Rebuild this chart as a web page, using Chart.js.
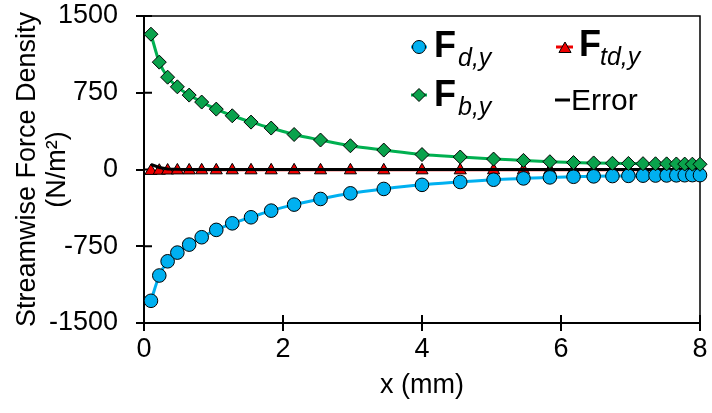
<!DOCTYPE html>
<html><head><meta charset="utf-8">
<script src="https://cdn.jsdelivr.net/npm/chart.js@4.4.1/dist/chart.umd.min.js"></script>
<style>html,body{margin:0;padding:0;background:#fff;}#wrap{width:712px;height:413px;}</style>
</head><body><div id="wrap"><canvas id="c" width="712" height="413"></canvas></div>
<script>
const xPositions = [0.10,0.22,0.34,0.48,0.65,0.83,1.04,1.27,1.54,1.83,2.16,2.54,2.97,3.45,4.00,4.55,5.03,5.46,5.84,6.18,6.47,6.74,6.97,7.18,7.36,7.52,7.66,7.78,7.89,8.00];
const fdY  = [-1283,-1036,-897,-812,-734,-662,-590,-526,-467,-402,-343,-288,-233,-190,-150,-122,-100,-87,-77,-71,-67,-64,-62,-60,-59,-58,-57,-56,-55,-55];
const fbY  = [1322,1049,902,808,727,659,590,525,463,405,342,288,232,190,146,122,102,89,76,68,64,61,59,57,56,55,54,53,52,51];
const ftdY = [-14,-12,-10,-9,-9,-8,-8,-8,-8,-8,-8,-8,-8,-8,-8,-8,-8,-8,-8,-8,-8,-8,-8,-8,-8,-8,-8,-8,-8,-8];
const errY = [50,20,6,2,0,0,0,0,0,0,0,0,0,0,0,0,0,0,0,0,0,0,0,0,0,0,0,0,0,0];
const xTicks = [0,2,4,6,8];
const yTicks = [-1500,-750,0,750,1500];
const seriesNames = ['F', 'd,y', 'b,y', 'td,y', 'Error'];

const FONT = "'Liberation Sans', Arial, sans-serif";
const BLUE = '#00B0F0', GREEN_LINE = '#00B050', GREEN_FILL = '#0AA24C', RED = '#EE0000';

const pts = arr => arr.map((v, i) => ({x: xPositions[i], y: v}));

const framePlugin = {
  id: 'frame',
  beforeDatasetsDraw(chart) {
    const {ctx, chartArea: a, scales} = chart;
    ctx.save();
    ctx.strokeStyle = '#000';
    ctx.lineWidth = 1.5;
    ctx.beginPath();
    ctx.moveTo(a.left, a.top); ctx.lineTo(a.right, a.top); ctx.lineTo(a.right, a.bottom);
    ctx.stroke();
    ctx.lineWidth = 2;
    ctx.beginPath();
    yTicks.forEach(v => { const y = scales.y.getPixelForValue(v); ctx.moveTo(a.left, y); ctx.lineTo(a.left + 8, y); });
    xTicks.forEach(v => { const x = scales.x.getPixelForValue(v); ctx.moveTo(x, a.bottom); ctx.lineTo(x, a.bottom - 8); });
    ctx.stroke();
    ctx.restore();
  },
  afterDraw(chart) {
    const ctx = chart.ctx;
    const H = Chart.helpers;
    ctx.save();
    const seg = (x1, x2, y, c, w) => { ctx.strokeStyle = c; ctx.lineWidth = w; ctx.beginPath(); ctx.moveTo(x1, y); ctx.lineTo(x2, y); ctx.stroke(); };
    const mark = (style, r, fill, x, y) => { ctx.fillStyle = fill; ctx.strokeStyle = '#000'; ctx.lineWidth = 1; H.drawPoint(ctx, {pointStyle: style, radius: r, borderWidth: 1, rotation: 0}, x, y); };
    const txt = (s, x, y, f) => { ctx.font = f; ctx.fillStyle = '#000'; ctx.textAlign = 'left'; ctx.textBaseline = 'alphabetic'; ctx.fillText(s, x, y); };
    // Fd,y
    seg(411, 427, 47, BLUE, 3); mark('circle', 6.5, BLUE, 419, 47);
    txt(seriesNames[0], 434, 57, 'bold 36px ' + FONT);
    txt(seriesNames[1], 458, 66, 'italic 25px ' + FONT);
    // Fb,y
    seg(411, 427, 95, GREEN_LINE, 3); mark('rectRot', 6.5, GREEN_FILL, 419, 95);
    txt(seriesNames[0], 434, 106, 'bold 36px ' + FONT);
    txt(seriesNames[2], 458, 115, 'italic 25px ' + FONT);
    // Ftd,y
    seg(556, 573, 47, RED, 3); mark('triangle', 7, RED, 565, 49);
    txt(seriesNames[0], 579, 56, 'bold 36px ' + FONT);
    txt(seriesNames[3], 600, 65, 'italic 25px ' + FONT);
    // Error
    seg(555, 570, 100, '#000', 3);
    txt(seriesNames[4], 571, 110, '30px ' + FONT);
    ctx.restore();
  }
};

const tickFont = {family: FONT, size: 27};
new Chart(document.getElementById('c'), {
  type: 'line',
  data: {
    datasets: [
      {label: 'Fb,y', data: pts(fbY), borderColor: GREEN_LINE, borderWidth: 3, backgroundColor: GREEN_FILL,
       pointStyle: 'rectRot', pointRadius: 7, pointBorderColor: '#000', pointBorderWidth: 1, pointBackgroundColor: GREEN_FILL,
       cubicInterpolationMode: 'monotone', order: 0, clip: false},
      {label: 'Fd,y', data: pts(fdY), borderColor: BLUE, borderWidth: 3, backgroundColor: BLUE,
       pointStyle: 'circle', pointRadius: 6.8, pointBorderColor: '#000', pointBorderWidth: 1, pointBackgroundColor: BLUE,
       cubicInterpolationMode: 'monotone', order: 1, clip: false},
      {label: 'Error', data: pts(errY), borderColor: '#000', borderWidth: 3, pointRadius: 0, order: 2, clip: false},
      {label: 'Ftd,y', data: pts(ftdY), borderColor: RED, borderWidth: 2, backgroundColor: RED,
       pointStyle: 'triangle', pointRadius: 7, pointBorderColor: '#000', pointBorderWidth: 1, pointBackgroundColor: RED,
       order: 3, clip: false}
    ]
  },
  options: {
    responsive: false, animation: false, devicePixelRatio: 1,
    layout: {padding: {top: 0, right: 12, left: 0, bottom: 0}},
    plugins: {legend: {display: false}, tooltip: {enabled: false}},
    scales: {
      x: {type: 'linear', min: 0, max: 8,
          afterBuildTicks: s => { s.ticks = xTicks.map(v => ({value: v})); },
          ticks: {color: '#000', font: tickFont, padding: 2, maxRotation: 0, callback: v => String(v)},
          grid: {drawOnChartArea: false, drawTicks: true, tickLength: 8, color: '#000', lineWidth: 2},
          border: {display: true, color: '#000', width: 2},
          title: {display: true, text: 'x (mm)', color: '#000', font: {family: FONT, size: 27}, padding: {top: 0, bottom: 11}},
          afterFit: s => { s.height = 90; s.paddingRight = 12; }},
      y: {type: 'linear', min: -1500, max: 1500,
          afterBuildTicks: s => { s.ticks = yTicks.map(v => ({value: v})); },
          ticks: {color: '#000', font: tickFont, padding: 18, callback: v => String(v)},
          grid: {drawOnChartArea: false, drawTicks: true, tickLength: 8, color: '#000', lineWidth: 2},
          border: {display: true, color: '#000', width: 2},
          title: {display: true, text: ['Streamwise Force Density', '(N/m\u00B2)'], color: '#000',
                  font: {family: FONT, size: 27, lineHeight: 30 / 27}, padding: {top: 13, bottom: 0}},
          afterFit: s => { s.width = 144; s.paddingTop = 16; s.paddingBottom = 0; }}
    }
  },
  plugins: [framePlugin]
});
</script></body></html>
